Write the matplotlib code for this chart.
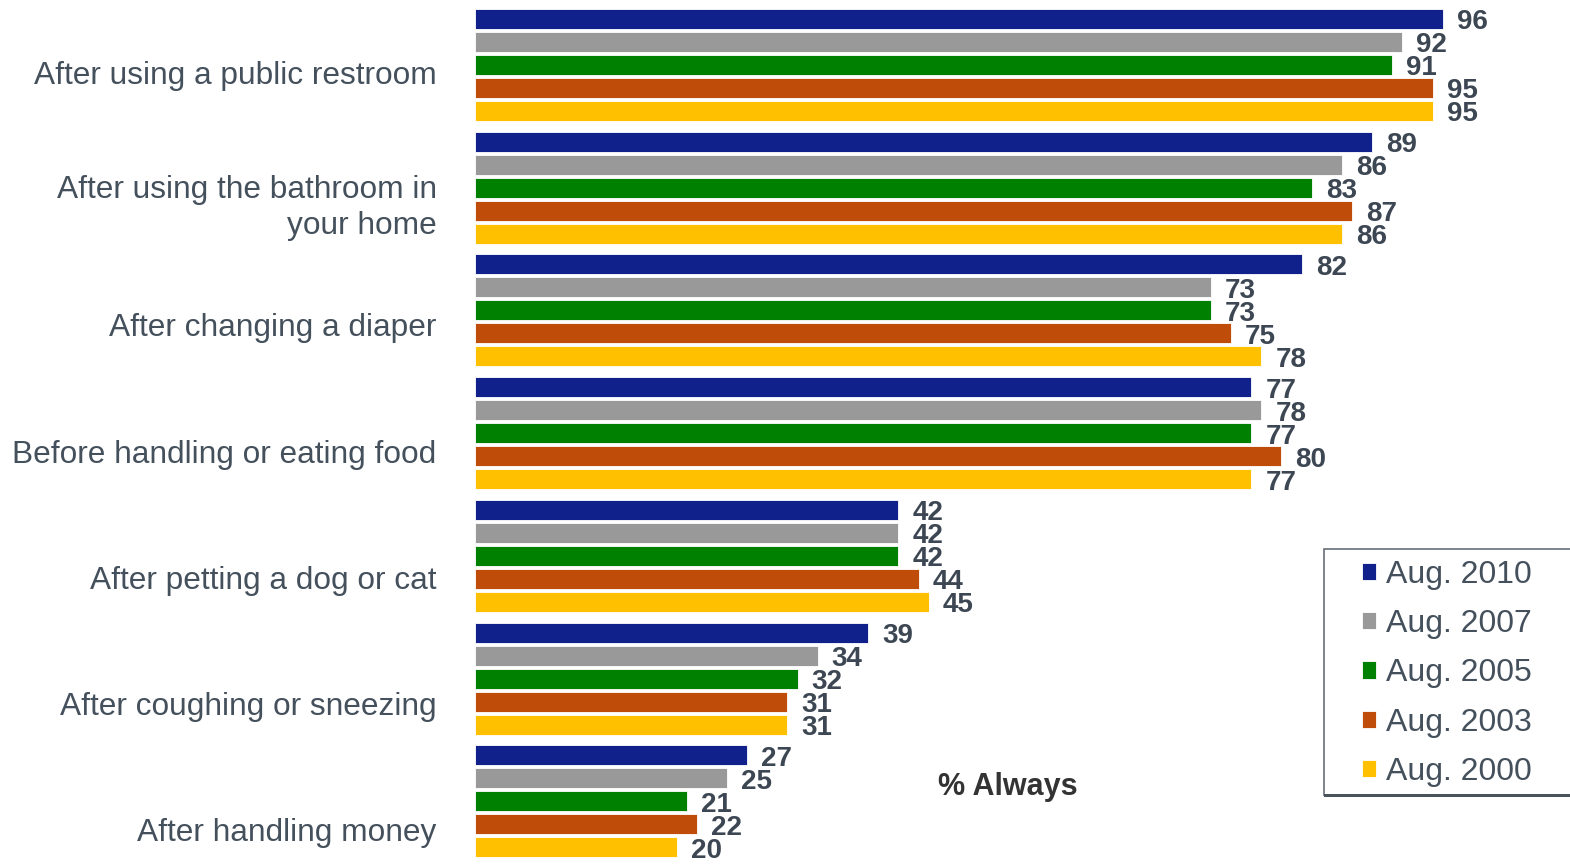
import numpy as np
import matplotlib
matplotlib.use("Agg")
import matplotlib.pyplot as plt
from matplotlib.patches import Rectangle

# data
categories = ["After using a public restroom",
              "After using the bathroom in\nyour home",
              "After changing a diaper",
              "Before handling or eating food",
              "After petting a dog or cat",
              "After coughing or sneezing",
              "After handling money"]
series_names = ["Aug. 2010", "Aug. 2007", "Aug. 2005", "Aug. 2003", "Aug. 2000"]
aug2010 = [96, 89, 82, 77, 42, 39, 27]
aug2007 = [92, 86, 73, 78, 42, 34, 25]
aug2005 = [91, 83, 73, 77, 42, 32, 21]
aug2003 = [95, 87, 75, 80, 44, 31, 22]
aug2000 = [95, 86, 78, 77, 45, 31, 20]
series = [aug2010, aug2007, aug2005, aug2003, aug2000]
colors = ["#10218b", "#999999", "#008000", "#c04c0a", "#ffc000"]

txt_col = "#44505c"
W, H = 1570, 865
fig = plt.figure(figsize=(W / 100, H / 100), dpi=100)
ax = fig.add_axes([475 / W, 0, 1 - 475 / W, 1])

group_step = 5.335
first = 0.826
for j, vals in enumerate(series):
    y = first + np.arange(len(categories)) * group_step + j
    ax.barh(y, vals, height=0.87, color=colors[j], edgecolor="white",
            linewidth=0.6, label=series_names[j])
    for yy, v in zip(y, vals):
        ax.text(v + 1.4, yy + 0.15, str(v), ha="left", va="center",
                fontsize=20, fontweight="bold", color="#3d4753",
                family="Liberation Sans")

# category labels sit a little below each group's middle bar
for i, cat in enumerate(categories):
    yc = first + i * group_step + 2 + 0.48 + 0.152 * i
    if "\n" in cat:
        yc += 0.25
    ax.text(-3.8, yc, cat, ha="right", va="center", fontsize=22.8,
            color=txt_col, family="Liberation Sans", linespacing=1.28)

ax.set_xlim(0, (W - 475) / 10.08)
ax.set_ylim(H / 23, 0)
ax.axis("off")

fig.text(1008 / W, 1 - 787 / H, "% Always", ha="center", va="center",
         fontsize=22, fontweight="bold", color="#333333",
         family="Liberation Sans")

# legend box (runs off the right edge like the original)
fig.add_artist(Rectangle((1324 / W, 1 - 795 / H), (W + 10 - 1324) / W,
                         (795 - 549) / H, transform=fig.transFigure,
                         facecolor="white", edgecolor="#666e78", lw=1.2,
                         zorder=5))
fig.add_artist(Rectangle((1324 / W, 1 - 797 / H), (W + 10 - 1324) / W,
                         3 / H, transform=fig.transFigure,
                         facecolor="#4a525c", edgecolor="none", zorder=6))

handles, labels = ax.get_legend_handles_labels()
leg = fig.legend(handles, labels, loc="upper left",
                 bbox_to_anchor=(1362 / W, 1 - 560 / H),
                 bbox_transform=fig.transFigure, frameon=False,
                 handlelength=0.45, handleheight=0.45, handletextpad=0.3,
                 labelspacing=0.6, borderpad=0, borderaxespad=0,
                 prop={"family": "Liberation Sans", "size": 23})
leg.set_zorder(7)
for t in leg.get_texts():
    t.set_color(txt_col)

fig.savefig("out.png", dpi=100)
